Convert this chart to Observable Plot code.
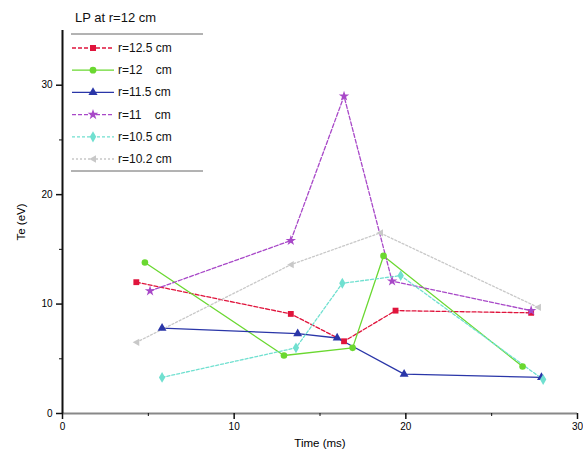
<!DOCTYPE html>
<html><head><meta charset="utf-8">
<script src="https://cdn.jsdelivr.net/npm/d3@7"></script>
<script src="https://cdn.jsdelivr.net/npm/@observablehq/plot@0.6"></script>
<style>
body{margin:0;background:#fff;font-family:"Liberation Sans",Arial,sans-serif;}
#wrap{position:relative;width:583px;height:459px;}
#legend{position:absolute;left:0;top:0;}
</style></head>
<body><div id="wrap"></div>
<script>
const seriesNames = ["r=12.5 cm","r=12    cm","r=11.5 cm","r=11    cm","r=10.5 cm","r=10.2 cm"];
const seriesColors = ["#e0143c","#6ad830","#2a36a8","#a848c8","#70e0d0","#c8c8c8"];
const seriesDash = ["4,2",null,null,"4,2","3,2","2,2"];
const seriesSymbols = ["square","circle","triangle","star","diamond","left"];
const time125 = [4.3,13.3,16.4,19.4,27.3];
const te125   = [12.0,9.1,6.6,9.4,9.2];
const time12  = [4.8,12.9,16.9,18.7,26.8];
const te12    = [13.8,5.3,6.0,14.4,4.3];
const time115 = [5.8,13.7,16.0,19.9,27.9];
const te115   = [7.8,7.3,6.9,3.6,3.3];
const time11  = [5.1,13.3,16.4,19.2,27.3];
const te11    = [11.2,15.8,29.0,12.1,9.4];
const time105 = [5.8,13.6,16.3,19.7,28.0];
const te105   = [3.3,6.0,11.9,12.6,3.1];
const time102 = [4.3,13.3,18.5,27.7];
const te102   = [6.5,13.6,16.5,9.7];
const xTicks = [0,10,20,30];
const xMinor = [5,15,25];
const yTicks = [0,10,20,30];
const yMinor = [5,15,25];
const titleText = "LP at r=12 cm";

const times = [time125,time12,time115,time11,time105,time102];
const tes = [te125,te12,te115,te11,te105,te102];
const data = [];
times.forEach((ts,i)=>ts.forEach((t,j)=>data.push({s:seriesNames[i],i,x:t,y:tes[i][j]})));

const leftTri = {draw(ctx,size){const r=Math.sqrt(size/Math.PI)*1.1;ctx.moveTo(-r,0);ctx.lineTo(r*0.8,-r);ctx.lineTo(r*0.8,r);ctx.closePath();}};
function sym(name){return name==="left"?leftTri:name;}

const marks = [];
seriesNames.forEach((n,i)=>{
  const d = data.filter(e=>e.i===i);
  marks.push(Plot.line(d,{x:"x",y:"y",stroke:seriesColors[i],strokeWidth:1.3,strokeDasharray:seriesDash[i]}));
});
seriesNames.forEach((n,i)=>{
  const d = data.filter(e=>e.i===i);
  marks.push(Plot.dot(d,{x:"x",y:"y",fill:seriesColors[i],stroke:"none",r:3.3,symbol:()=>sym(seriesSymbols[i])}));
});

const chart = Plot.plot({
  width:583,height:459,
  marginLeft:62,marginRight:6,marginTop:30,marginBottom:46,
  style:{fontFamily:"Liberation Sans, Arial, sans-serif",fontSize:"10px",background:"#fff"},
  x:{domain:[0,30]},
  y:{domain:[0,35]},
  symbol:{type:"identity"},
  marks:[
    ...marks,
    Plot.ruleY([0],{stroke:"#888",strokeWidth:2}),
    Plot.ruleX([0],{stroke:"#111",strokeWidth:2}),
    Plot.axisX({ticks:xTicks,tickSize:6,tickPadding:3,fontSize:10,label:"Time (ms)",labelAnchor:"center",labelArrow:"none",labelOffset:33,stroke:"#111",strokeWidth:1.5}),
    Plot.axisX({ticks:xMinor,tickSize:3,text:null,label:null,stroke:"#111"}),
    Plot.axisY({ticks:yTicks,tickSize:6,tickPadding:4,fontSize:10,label:"Te (eV)",labelAnchor:"center",labelArrow:"none",labelOffset:46,stroke:"#111",strokeWidth:1.5}),
    Plot.axisY({ticks:yMinor,tickSize:3,text:null,label:null,stroke:"#111"})
  ]
});
chart.querySelectorAll("g[aria-label='x-axis label'] text, g[aria-label='y-axis label'] text").forEach(t=>t.setAttribute("font-size","11.5"));
const wrap = document.getElementById("wrap");
wrap.appendChild(chart);

// legend overlay
const lg = d3.select(wrap).append("svg").attr("id","legend").attr("width",583).attr("height",200)
  .style("font-family","Liberation Sans, Arial, sans-serif");
lg.append("text").attr("x",75).attr("y",22).attr("font-size",13).attr("fill","#111").text(titleText);
lg.append("line").attr("x1",71).attr("x2",203).attr("y1",34).attr("y2",34).attr("stroke","#666").attr("stroke-width",1);
lg.append("line").attr("x1",71).attr("x2",203).attr("y1",171).attr("y2",171).attr("stroke","#666").attr("stroke-width",1);
const symTypes = {square:d3.symbolSquare,circle:d3.symbolCircle,triangle:d3.symbolTriangle,star:d3.symbolStar,diamond:d3.symbolDiamond,left:leftTri};
seriesNames.forEach((n,i)=>{
  const y = 48 + i*22.2;
  lg.append("line").attr("x1",72).attr("x2",114).attr("y1",y).attr("y2",y).attr("stroke",seriesColors[i]).attr("stroke-width",1.3).attr("stroke-dasharray",seriesDash[i]);
  lg.append("path").attr("d",d3.symbol(symTypes[seriesSymbols[i]],36)()).attr("transform",`translate(93,${y})`).attr("fill",seriesColors[i]);
  lg.append("text").attr("x",118).attr("y",y+4).attr("font-size",12).attr("fill","#111").attr("xml:space","preserve").style("white-space","pre").text(n);
});
</script></body></html>
